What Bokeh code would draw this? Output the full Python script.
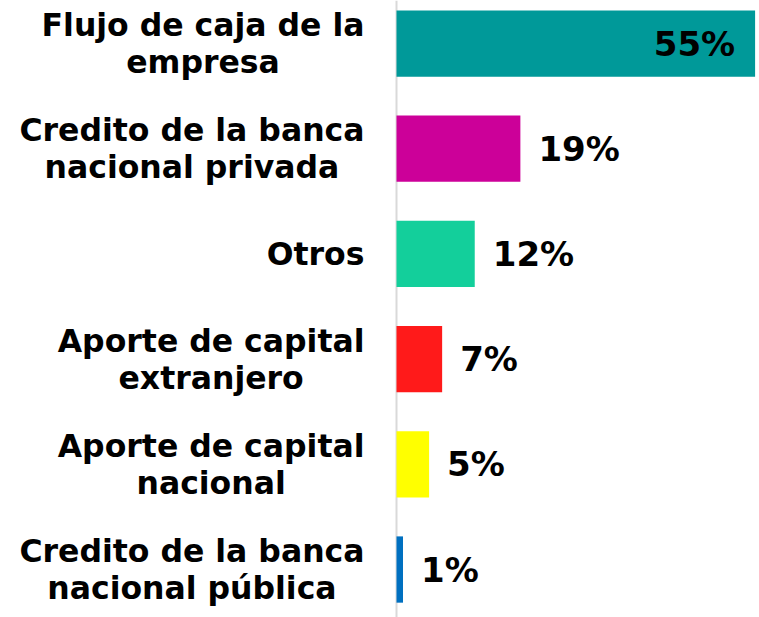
from bokeh.plotting import figure
from bokeh.models import ColumnDataSource, Range1d, Span
from bokeh.core.properties import value
from bokeh.embed import file_html
from bokeh.resources import INLINE

# ---- data ----
categories = [
    "Flujo de caja de la\nempresa",
    "Credito de la banca\nnacional privada",
    "Otros",
    "Aporte de capital\nextranjero",
    "Aporte de capital\nnacional",
    "Credito de la banca\nnacional pública",
]
values = [55, 19, 12, 7, 5, 1]
value_labels = ["55%", "19%", "12%", "7%", "5%", "1%"]

# ---- style ----
colors = ["#009999", "#CC0099", "#13CF9B", "#FF1A1A", "#FFFF00", "#0070C0"]
FONT = "DejaVu Sans"
CAT_SIZE = 31.5
VAL_SIZE = 34

# approximate DejaVu Sans Bold advance widths (em)
W = {' ': .348, 'a': .675, 'b': .716, 'c': .593, 'd': .716, 'e': .678, 'i': .343,
     'j': .343, 'l': .343, 'm': 1.042, 'n': .712, 'o': .687, 'p': .716, 'r': .493,
     's': .595, 't': .478, 'u': .712, 'ú': .712, 'v': .652, 'x': .645, 'A': .774,
     'C': .734, 'F': .683, 'O': .850}


def block_width(s):
    return max(sum(W.get(ch, .68) for ch in line) for line in s.split("\n")) * CAT_SIZE


n = len(categories)
ys = [n - 1 - i for i in range(n)]
cat_offset = [-32 - block_width(c) / 2 for c in categories]
vmax = max(values)
inside = [v == vmax for v in values]
val_offset = [-20 if ins else 18 for ins in inside]
val_align = ["right" if ins else "left" for ins in inside]

src = ColumnDataSource(dict(y=ys, v=values, lab=value_labels, cat=categories,
                            color=colors, zero=[0] * n, cat_off=cat_offset,
                            val_off=val_offset, val_align=val_align))

W_PX, H_PX = 759, 617
k = 6.52  # px per unit
xs = -396 / k
p = figure(width=W_PX, height=H_PX, output_backend="svg", toolbar_location=None,
           x_range=Range1d(xs, xs + W_PX / k), y_range=Range1d(-0.456, 5.409),
           min_border=0, x_axis_location=None, y_axis_location=None)
p.outline_line_color = None
p.xgrid.visible = False
p.ygrid.visible = False
p.background_fill_color = "white"
p.border_fill_color = "white"

p.add_layout(Span(location=0, dimension="height", line_color="#D9D9D9", line_width=2, level="underlay"))

p.hbar(y="y", right="v", left="zero", height=0.63, fill_color="color", line_color=None, source=src)

p.text(x="zero", y="y", text="cat", x_offset="cat_off", text_align="center",
       text_baseline="middle", text_font=value(FONT), text_font_style="bold",
       text_font_size=f"{CAT_SIZE}px", text_line_height=1.022, text_color="black", source=src)

p.text(x="v", y="y", text="lab", x_offset="val_off", text_align="val_align",
       text_baseline="middle", text_font=value(FONT), text_font_style="bold",
       text_font_size=f"{VAL_SIZE}px", text_color="black", source=src)

open("out.html", "w").write(file_html(p, INLINE))
